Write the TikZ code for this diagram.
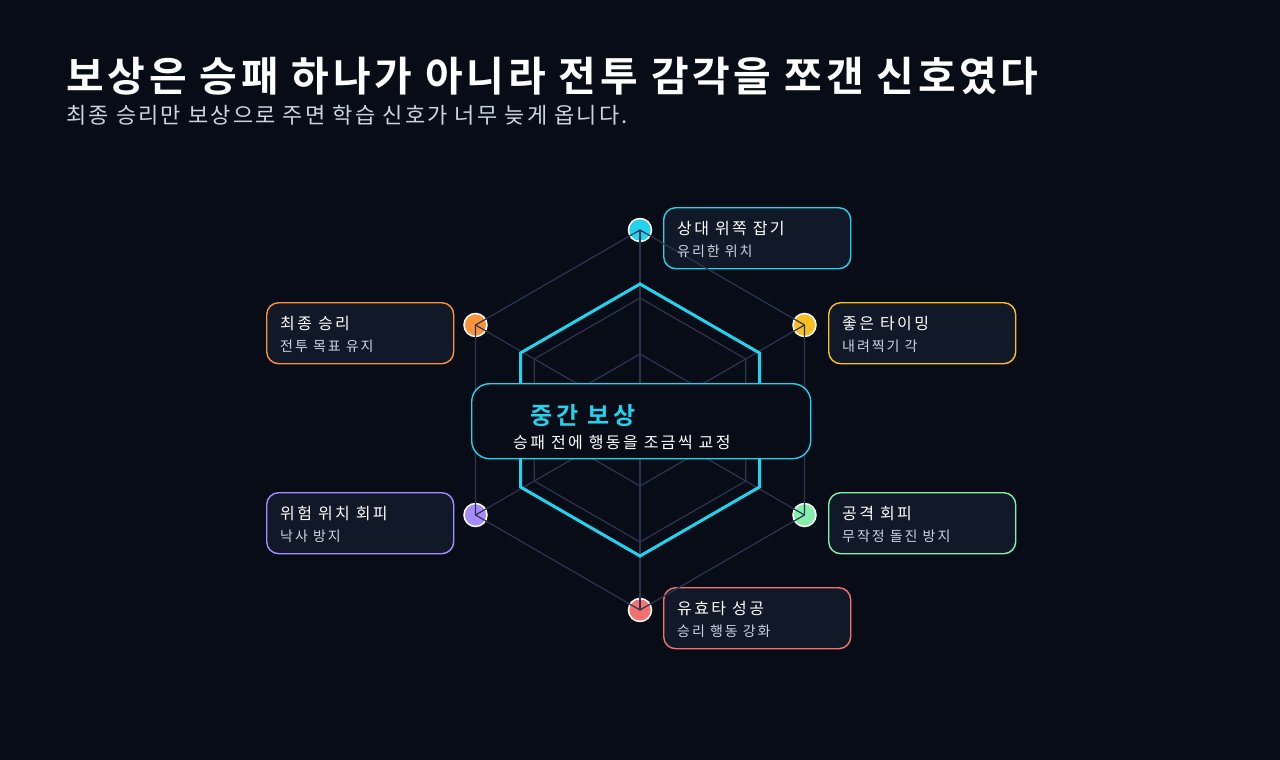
\documentclass[tikz,border=0pt]{standalone}
\usepackage{fontspec}
\setmainfont{Noto Sans CJK KR}
\newfontfamily\krb{Noto Sans CJK KR}[BoldFont={* Bold}]
\definecolor{bg}{HTML}{080C16}
\definecolor{boxf}{HTML}{111827}
\definecolor{grid}{HTML}{2A3550}
\definecolor{cy}{HTML}{22D3EE}
\definecolor{org}{HTML}{FB923C}
\definecolor{yel}{HTML}{FBBF24}
\definecolor{grn}{HTML}{86EFAC}
\definecolor{rd}{HTML}{F87171}
\definecolor{pur}{HTML}{A78BFA}
\definecolor{sub}{HTML}{CBD5E1}
\begin{document}
\begin{tikzpicture}[x=1pt,y=-1pt,
  card/.style={draw=#1,line width=1.4pt,fill=boxf,rounded corners=12pt,minimum width=187pt,minimum height=61pt,anchor=north west},
  dot/.style={circle,draw=white,line width=1.5pt,fill=#1,minimum size=23pt,inner sep=0pt},
  gl/.style={draw=grid,line width=1.2pt},
  ttl/.style={text=white,font=\fontsize{16}{18}\selectfont\addfontfeatures{LetterSpace=15},anchor=base west,inner sep=0pt},
  stl/.style={text=sub,font=\fontsize{14}{16}\selectfont\addfontfeatures{LetterSpace=14},anchor=base west,inner sep=0pt}]
\fill[bg] (0,0) rectangle (1280,760);
\useasboundingbox (0,0) rectangle (1280,760);
\node[anchor=base west,inner sep=0pt,text=white,font=\krb\bfseries\fontsize{41}{44}\selectfont\addfontfeatures{LetterSpace=9}] (title) at (66,92) {보상은 승패 하나가 아니라 전투 감각을 쪼갠 신호였다};
\node[anchor=base west,inner sep=0pt,text=sub,font=\fontsize{22}{24}\selectfont\addfontfeatures{LetterSpace=10}] (subt) at (66,123) {최종 승리만 보상으로 주면 학습 신호가 너무 늦게 옵니다.};
% cards
\node[card=cy] (c1) at (663,207) {};
\node[card=yel] (c2) at (828,302) {};
\node[card=grn] (c3) at (828,492) {};
\node[card=rd] (c4) at (663,587) {};
\node[card=pur] (c5) at (266,492) {};
\node[card=org] (c6) at (266,302) {};
% dots
\node[dot=cy] (v1) at (640,230) {};
\node[dot=yel] (v2) at (804.5,325) {};
\node[dot=grn] (v3) at (804.5,515) {};
\node[dot=rd] (v4) at (640,610) {};
\node[dot=pur] (v5) at (475.5,515) {};
\node[dot=org] (v6) at (475.5,325) {};
\coordinate (o) at (640,420);
% grid
\draw[gl] (v1.center)--(v2.center)--(v3.center)--(v4.center)--(v5.center)--(v6.center)--cycle;
\foreach \v in {v1,v2,v3,v4,v5,v6} \draw[gl] (o)--(\v.center);
\draw[gl] (640,298)--(745.7,359)--(745.7,481)--(640,542)--(534.3,481)--(534.3,359)--cycle;
\draw[gl] (640,354)--(697.2,387)--(697.2,453)--(640,486)--(582.8,453)--(582.8,387)--cycle;
\draw[cy,line width=3pt] (640,284)--(759.5,353)--(759.5,487)--(640,556)--(520.5,487)--(520.5,353)--cycle;
% center card
\node[draw=cy,line width=1.4pt,fill=bg,rounded corners=18pt,minimum width=339pt,minimum height=75pt,anchor=north west] (cc) at (471,383) {};
\node[anchor=base west,inner sep=0pt,text=cy,font=\krb\bfseries\fontsize{24}{26}\selectfont\addfontfeatures{LetterSpace=16}] (ct) at (530,424) {중간 보상};
\node[anchor=base west,inner sep=0pt,text=white,font=\fontsize{16}{18}\selectfont\addfontfeatures{LetterSpace=15}] (cs) at (513,448) {승패 전에 행동을 조금씩 교정};
% texts
\node[ttl] at (677,234) {상대 위쪽 잡기};
\node[stl] at (677,256) {유리한 위치};
\node[ttl] at (842,329) {좋은 타이밍};
\node[stl] at (842,351) {내려찍기 각};
\node[ttl] at (842,519) {공격 회피};
\node[stl] at (842,541) {무작정 돌진 방지};
\node[ttl] at (677,614) {유효타 성공};
\node[stl] at (677,636) {승리 행동 강화};
\node[ttl] at (280,519) {위험 위치 회피};
\node[stl] at (280,541) {낙사 방지};
\node[ttl] at (280,329) {최종 승리};
\node[stl] at (280,351) {전투 목표 유지};
\end{tikzpicture}
\end{document}
